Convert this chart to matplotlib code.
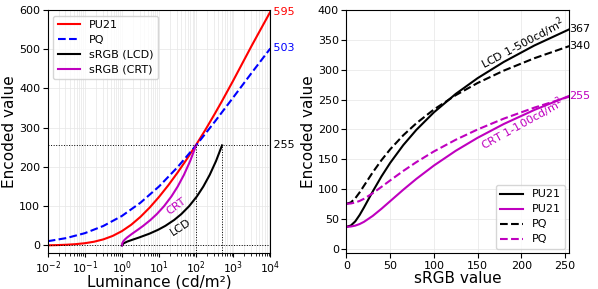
import matplotlib
matplotlib.use("Agg")
import matplotlib.pyplot as plt
from matplotlib.ticker import NullFormatter

# ---------------- data ----------------
# Left panel: encoded value vs luminance
lum_pu21 = [0.01, 0.0178, 0.0316, 0.0562, 0.1, 0.178, 0.316, 0.562, 1, 1.78, 3.16,
            5.62, 10, 17.8, 31.6, 56.2, 100, 178, 316, 500, 1000, 3162, 10000]
pu21_vals = [0.37, 0.92, 1.82, 3.30, 5.72, 9.56, 15.50, 24.26, 36.54, 52.74, 72.88,
             96.66, 123.65, 153.4, 185.6, 220.0, 256.4, 294.7, 334.9, 368.1, 420.1, 509.3, 595.4]

lum_pq = [0.01, 0.0316, 0.1, 0.316, 1, 3.16, 10, 31.6, 100, 316, 1000, 3162, 10000]
pq_vals = [10.8, 18.8, 31.3, 49.7, 75.2, 108.9, 150.3, 199.5, 255.0, 314.9, 377.1, 440.1, 502.0]

srgb_codes = [0, 5, 10, 15, 20, 30, 40, 50, 65, 80, 100, 125, 150, 180, 215, 255]
lcd_lum = [1, 1.0874, 1.4015, 1.9798, 2.8450, 5.5017, 9.4770, 14.850, 25.667, 39.956,
           64.646, 104.97, 156.28, 232.90, 343.82, 500]
crt_lum = [1, 1.0173, 1.0797, 1.1944, 1.3660, 1.8931, 2.6818, 3.7477, 5.8939, 8.7288,
           13.627, 21.628, 31.807, 47.009, 69.015, 100]

# Right panel: encoded value vs sRGB code value
pu21_lcd = [36.5, 38.65, 45.55, 56.20, 68.89, 95.69, 121.0, 143.8, 173.7, 199.3,
            228.6, 259.6, 286.0, 313.3, 340.9, 368.1]
pu21_crt = [36.5, 36.98, 38.47, 41.11, 44.82, 54.74, 66.72, 79.53, 98.75, 117.0,
            139.3, 164.1, 185.9, 209.1, 232.7, 256.4]
pq_lcd = [75.2, 77.43, 84.25, 94.17, 105.4, 127.8, 148.3, 166.6, 190.2, 210.4,
          233.4, 257.5, 277.9, 298.7, 319.5, 339.9]
pq_crt = [75.2, 75.70, 77.24, 79.90, 83.54, 92.85, 103.5, 114.4, 130.3, 145.1,
          163.0, 182.6, 199.9, 218.1, 236.6, 255.0]

lum_ticks = [1e-2, 1e-1, 1e0, 1e1, 1e2, 1e3, 1e4]
left_end_labels = ["595", "503", "255"]
right_end_labels = ["367", "340", "255"]

MAG = "#bf00bf"

fig = plt.figure(figsize=(5.98, 2.89), dpi=100)
axL = fig.add_axes([0.0798, 0.1235, 0.3722, 0.8419])
axR = fig.add_axes([0.5794, 0.1235, 0.3726, 0.8419])

# ---------------- left ----------------
axL.plot(lum_pu21, pu21_vals, color="r", lw=1.5, label="PU21")
axL.plot(lum_pq, pq_vals, color="b", lw=1.5, ls="--", label="PQ")
axL.plot(lcd_lum, srgb_codes, color="k", lw=1.5, label="sRGB (LCD)")
axL.plot(crt_lum, srgb_codes, color=MAG, lw=1.5, label="sRGB (CRT)")
axL.set_xscale("log")
axL.set_xticks(lum_ticks)
axL.xaxis.set_minor_formatter(NullFormatter())
axL.set_xlim(1e-2, 1e4)
axL.set_ylim(-20, 600)
axL.set_yticks(range(0, 601, 100))
axL.axhline(255, color="k", ls=":", lw=0.7)
axL.axhline(0, color="k", ls=":", lw=0.7)
axL.plot([100, 100], [-20, 255], color="k", ls=":", lw=0.7)
axL.plot([500, 500], [-20, 255], color="k", ls=":", lw=0.7)
axL.grid(True, which="both", color="#e6e6e6", lw=0.5)
axL.set_axisbelow(True)
axL.tick_params(axis="y", labelsize=8, pad=2)
axL.tick_params(axis="x", which="major", labelsize=7.8, pad=1.2, length=3)
axL.tick_params(axis="x", which="minor", length=1.8)
axL.set_xlabel("Luminance (cd/m²)", fontsize=11, labelpad=-1)
axL.set_ylabel("Encoded value", fontsize=11, labelpad=1.5)
axL.legend(loc="upper left", fontsize=8, handlelength=2.0, labelspacing=0.45)
axL.text(1e4, pu21_vals[-1], " " + left_end_labels[0], color="r", fontsize=8, va="center", ha="left", clip_on=False)
axL.text(1e4, pq_vals[-1], " " + left_end_labels[1], color="b", fontsize=8, va="center", ha="left", clip_on=False)
axL.text(1e4, 255, " " + left_end_labels[2], color="k", fontsize=8, va="center", ha="left", clip_on=False)
axL.text(30, 100, "CRT", color=MAG, fontsize=8, rotation=36, ha="center", va="center", rotation_mode="anchor")
axL.text(38, 47, "LCD", color="k", fontsize=8, rotation=33, ha="center", va="center", rotation_mode="anchor")

# ---------------- right ----------------
axR.plot(srgb_codes, pu21_lcd, color="k", lw=1.5, label="PU21")
axR.plot(srgb_codes, pu21_crt, color=MAG, lw=1.5, label="PU21")
axR.plot(srgb_codes, pq_lcd, color="k", lw=1.5, ls="--", label="PQ")
axR.plot(srgb_codes, pq_crt, color=MAG, lw=1.5, ls="--", label="PQ")
axR.set_xlim(0, 255)
axR.set_ylim(-8, 400.5)
axR.set_xticks(range(0, 251, 50))
axR.set_yticks(range(0, 401, 50))
axR.grid(True, color="#e6e6e6", lw=0.5)
axR.set_axisbelow(True)
axR.tick_params(labelsize=8, pad=2)
axR.set_xlabel("sRGB value", fontsize=11, labelpad=0)
axR.set_ylabel("Encoded value", fontsize=11, labelpad=1.5)
axR.legend(loc="lower right", fontsize=8, handlelength=2.0, labelspacing=0.45,
           borderaxespad=0.4)
axR.text(255, pu21_lcd[-1], right_end_labels[0], color="k", fontsize=8, va="center", ha="left", clip_on=False)
axR.text(255, pq_lcd[-1], right_end_labels[1], color="k", fontsize=8, va="center", ha="left", clip_on=False)
axR.text(255, pu21_crt[-1], right_end_labels[2], color=MAG, fontsize=8, va="center", ha="left", clip_on=False)
axR.text(202, 345, "LCD 1-500cd/m$^2$", color="k", fontsize=8, rotation=28, ha="center", va="center", rotation_mode="anchor")
axR.text(201, 209, "CRT 1-100cd/m$^2$", color=MAG, fontsize=8, rotation=29, ha="center", va="center", rotation_mode="anchor")

fig.savefig("out.png", dpi=100)
